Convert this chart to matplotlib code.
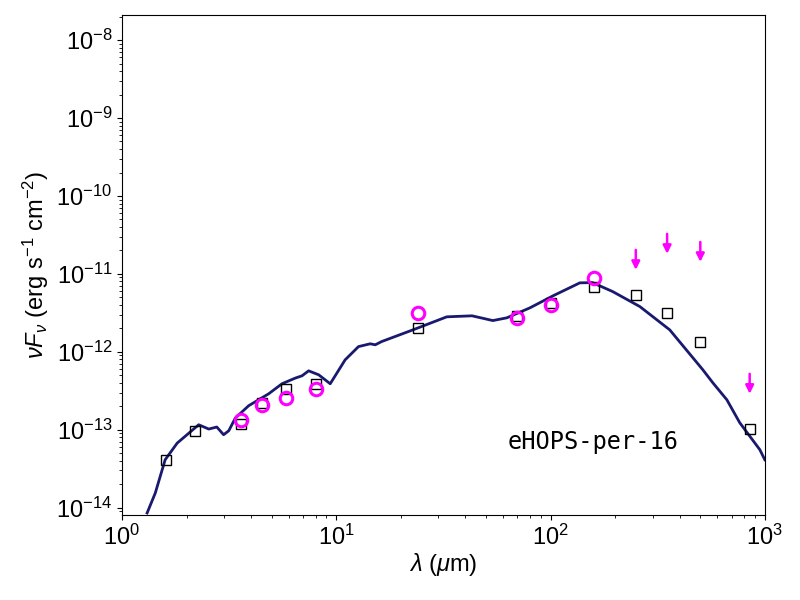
import numpy as np
import matplotlib.pyplot as plt

plt.rcParams['font.family'] = ['Liberation Sans', 'DejaVu Sans']
plt.rcParams['mathtext.fontset'] = 'custom'
plt.rcParams['mathtext.rm'] = 'Liberation Sans'
plt.rcParams['mathtext.it'] = 'Liberation Sans:italic'

# photometry (black squares)
phot_wav = [1.6, 2.2, 3.6, 4.5, 5.8, 8.0, 24, 70, 100, 160, 250, 350, 500, 850]
phot_flux = [4.12e-14, 9.7e-14, 1.18e-13, 2.2e-13, 3.32e-13, 3.89e-13, 2.01e-12, 2.84e-12,
             4.29e-12, 6.87e-12, 5.33e-12, 3.13e-12, 1.33e-12, 1.02e-13]
# observed (magenta circles)
obs_wav = [3.6, 4.5, 5.8, 8.0, 24, 70, 100, 160]
obs_flux = [1.34e-13, 2.09e-13, 2.52e-13, 3.32e-13, 3.13e-12, 2.75e-12, 3.97e-12, 8.97e-12]
# upper limits
ul_wav = [250, 350, 500, 850]
ul_flux = [2.03e-11, 3.26e-11, 2.57e-11, 5.22e-13]
# model SED (log10 of nuFnu)
mod_wav = [1.31, 1.43, 1.59, 1.81, 2.28, 2.54, 2.77, 2.98, 3.15, 3.38, 3.90, 4.84, 5.58,
           6.44, 6.92, 7.43, 8.28, 9.37, 11.0, 12.7, 14.4, 15.2, 16.3, 22.8, 32.8, 43.0,
           53.8, 62.5, 80.1, 102.6, 137, 157, 195, 261, 360, 514, 572, 665, 764, 948, 1000]
mod_logf = [-14.068, -13.812, -13.385, -13.171, -12.936, -12.991, -12.965, -13.064, -13.013,
            -12.85, -12.692, -12.538, -12.41, -12.337, -12.308, -12.244, -12.295, -12.41,
            -12.103, -11.933, -11.897, -11.91, -11.868, -11.718, -11.551, -11.538, -11.599,
            -11.564, -11.436, -11.282, -11.115, -11.112, -11.227, -11.419, -11.718, -12.231,
            -12.397, -12.615, -12.91, -13.256, -13.385]

fig = plt.figure(figsize=(8, 6), dpi=100)
ax = fig.add_axes([0.1525, 0.142, 0.8035, 0.833])
ax.plot(mod_wav, 10 ** np.array(mod_logf), color='#191970', lw=2)
ax.plot(phot_wav, phot_flux, 's', mfc='none', mec='black', ms=7)
ax.plot(obs_wav, obs_flux, 'o', mfc='none', mec='magenta', mew=2.2, ms=9)
for w, f in zip(ul_wav, ul_flux):
    ax.annotate('', xy=(w, f * 0.555), xytext=(w, f),
                arrowprops=dict(arrowstyle='-|>', color='magenta', lw=1.8,
                                mutation_scale=12, shrinkA=0, shrinkB=0))
ax.set_xscale('log')
ax.set_yscale('log')
ax.set_xlim(1, 1000)
ax.set_ylim(8.1e-15, 2.1e-8)
ax.tick_params(labelsize=17)
ax.set_xlabel(r'$\lambda$ ($\mu$m)', fontsize=17, labelpad=1)
ax.set_ylabel(r'$\nu F_\nu$ (erg s$^{-1}$ cm$^{-2}$)', fontsize=17)
ax.text(0.6, 0.145, 'eHOPS-per-16', transform=ax.transAxes, fontsize=17,
        family='DejaVu Sans Mono', va='center')
fig.savefig('out.png')
